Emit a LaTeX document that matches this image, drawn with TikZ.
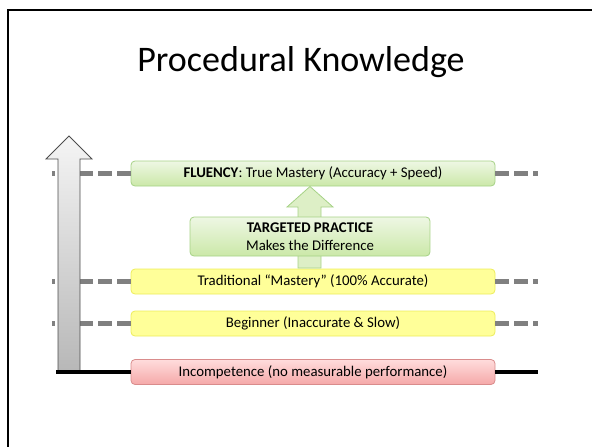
\documentclass[tikz,border=0pt]{standalone}
\usepackage{fontspec}
\setmainfont{Carlito}
\definecolor{greentop}{HTML}{EEF7E4}
\definecolor{greenbot}{HTML}{CBE8A8}
\definecolor{greenline}{HTML}{A6D286}
\definecolor{yellowfill}{HTML}{FFFF99}
\definecolor{yellowline}{HTML}{EDED5A}
\definecolor{redtop}{HTML}{FFDCDC}
\definecolor{redbot}{HTML}{F5A9A9}
\definecolor{redline}{HTML}{D98C8C}
\definecolor{guidegray}{HTML}{808080}
\tikzset{
  levelbox/.style={rounded corners=4pt, minimum width=364pt, minimum height=25pt,
    inner sep=0pt, line width=0.8pt, font=\fontsize{14.8}{17.8}\selectfont},
  greenbox/.style={levelbox, draw=greenline, top color=greentop, bottom color=greenbot},
  yellowbox/.style={levelbox, draw=yellowline, fill=yellowfill},
  redbox/.style={levelbox, draw=redline, top color=redtop, bottom color=redbot},
  guide/.style={draw=guidegray, line width=5pt, dash pattern=on 14pt off 5pt},
  floorline/.style={draw=black, line width=4pt},
}
\begin{document}
\begin{tikzpicture}[x=1pt, y=-1pt]
  \useasboundingbox (0,0) rectangle (592,447);
  % slide frame
  \draw[line width=2pt] (8,447) -- (8,10);
  \draw[line width=2pt] (7,10) -- (592,10);
  \node (title) at (301,62) {\fontsize{36}{43}\selectfont Procedural Knowledge};
  % levels
  \coordinate (fl) at (313,173.5);
  \coordinate (tr) at (313,281.5);
  \coordinate (bg) at (313,323.5);
  \coordinate (ic) at (313,372);
  \coordinate (fl-l) at (52,173.5);
  \coordinate (fl-r) at (538,173.5);
  \coordinate (tr-l) at (52,281.5);
  \coordinate (tr-r) at (538,281.5);
  \coordinate (bg-l) at (52,323.5);
  \coordinate (bg-r) at (538,323.5);
  \coordinate (ic-l) at (56,372);
  \coordinate (ic-r) at (538,372);
  \node[greenbox] (fluency) at (fl) {\textbf{FLUENCY}: True Mastery (Accuracy + Speed)};
  \node[yellowbox] (trad) at (tr) {Traditional “Mastery” (100\% Accurate)};
  \node[yellowbox] (begin) at (bg) {Beginner (Inaccurate \& Slow)};
  \node[redbox] (incomp) at (ic) {Incompetence (no measurable performance)};
  \begin{scope}[guide]
    \draw (fluency.west) -- (fl-l);
    \draw (fluency.east) -- (fl-r);
    \draw (trad.west) -- (tr-l);
    \draw (trad.east) -- (tr-r);
    \draw (begin.west) -- (bg-l);
    \draw (begin.east) -- (bg-r);
  \end{scope}
  % big arrow
  \draw[draw=black!70, line width=0.8pt, top color=black!4, bottom color=black!28]
    (58,371) -- (58,159) -- (46,159) -- (69,136) -- (92,159) -- (80,159) -- (80,371) -- cycle;
  \draw[floorline] (incomp.west) -- (ic-l);
  \draw[floorline] (incomp.east) -- (ic-r);
  % practice arrow
  \draw[draw=greenline, line width=0.8pt, fill=greentop!50!greenbot]
    (298,268) -- (298,207) -- (287,207) -- (310,186.5) -- (333,207) -- (321,207) -- (321,268) -- cycle;
  \node[greenbox, minimum width=240pt, minimum height=39pt, align=center,
    font=\fontsize{14.8}{18.5}\selectfont] (practice) at (310,236.5)
    {\textbf{TARGETED PRACTICE}\\Makes the Difference};
\end{tikzpicture}
\end{document}
